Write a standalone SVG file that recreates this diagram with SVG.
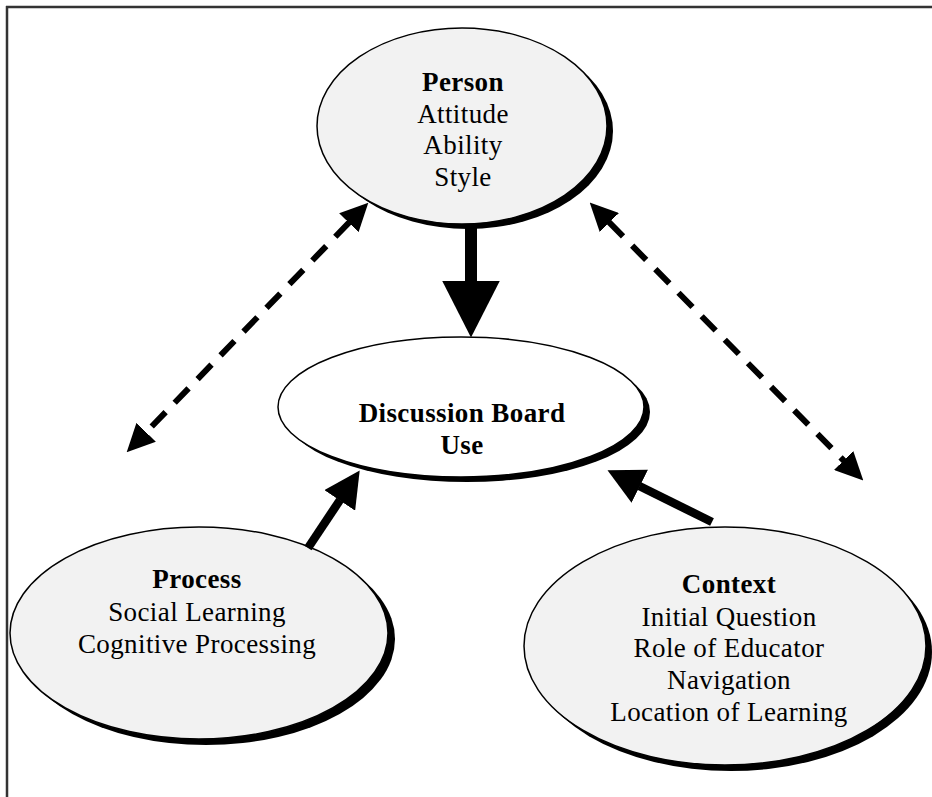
<svg xmlns="http://www.w3.org/2000/svg" width="932" height="797" viewBox="0 0 932 797">
<style>
.t{font-family:"Liberation Serif","Times New Roman",serif;font-size:27px;letter-spacing:0.4px;fill:#000;text-anchor:middle}
.b{font-weight:bold}
.shadow{fill:#000}
.node{fill:#f2f2f2;stroke:#000;stroke-width:1.5}
.white{fill:#fff}
.dash{stroke:#000;stroke-width:6;stroke-dasharray:20 13;fill:none}
.solid{stroke:#000;stroke-width:8.5;fill:none}
</style>
<defs>
<marker id="dh" markerUnits="userSpaceOnUse" markerWidth="28" markerHeight="27" refX="0.5" refY="13.5" orient="auto-start-reverse" viewBox="0 0 28 27">
<path d="M0,0 L28,13.5 L0,27 z" fill="#000"/>
</marker>
<marker id="sh" markerUnits="userSpaceOnUse" markerWidth="36" markerHeight="37" refX="0.5" refY="18.5" orient="auto" viewBox="0 0 36 37">
<path d="M0,0 L36,18.5 L0,37 z" fill="#000"/>
</marker>
<marker id="bh" markerUnits="userSpaceOnUse" markerWidth="57" markerHeight="58" refX="0.5" refY="29" orient="auto" viewBox="0 0 57 58">
<path d="M0,0 L57,29 L0,58 z" fill="#000"/>
</marker>
</defs>
<rect width="932" height="797" fill="#fff"/>
<g id="frame" stroke="#333" stroke-width="2.5" fill="none">
<line x1="6" y1="7" x2="932" y2="7"/>
<line x1="7" y1="6" x2="7" y2="797"/>
</g>
<g id="person">
<ellipse class="shadow" cx="468" cy="131" rx="145" ry="98"/>
<ellipse class="node" cx="462" cy="126" rx="145" ry="98"/>
<text class="t b" x="463" y="91">Person</text>
<text class="t" x="463" y="123">Attitude</text>
<text class="t" x="463" y="154">Ability</text>
<text class="t" x="463" y="186">Style</text>
</g>
<g id="discussion">
<ellipse class="shadow" cx="467" cy="412" rx="183" ry="70"/>
<ellipse class="node white" cx="461" cy="407" rx="183" ry="70"/>
<text class="t b" x="462" y="422">Discussion Board</text>
<text class="t b" x="462" y="454">Use</text>
</g>
<g id="process">
<ellipse class="shadow" cx="206" cy="639" rx="189" ry="106"/>
<ellipse class="node" cx="199" cy="633" rx="189" ry="106"/>
<text class="t b" x="197" y="588">Process</text>
<text class="t" x="197" y="621">Social Learning</text>
<text class="t" x="197" y="653">Cognitive Processing</text>
</g>
<g id="context">
<ellipse class="shadow" cx="731" cy="652" rx="201" ry="119"/>
<ellipse class="node" cx="725" cy="646" rx="201" ry="119"/>
<text class="t b" x="729" y="593">Context</text>
<text class="t" x="729" y="626">Initial Question</text>
<text class="t" x="729" y="657">Role of Educator</text>
<text class="t" x="729" y="689">Navigation</text>
<text class="t" x="729" y="721">Location of Learning</text>
</g>
<g id="connectors">
<line class="dash" x1="349.2" y1="222.4" x2="145.8" y2="432.6" marker-start="url(#dh)" marker-end="url(#dh)"/>
<line class="dash" x1="609" y1="222.2" x2="844" y2="460.8" marker-start="url(#dh)" marker-end="url(#dh)"/>
<line x1="471" y1="226" x2="471" y2="281" stroke="#000" stroke-width="12" marker-end="url(#bh)"/>
<line class="solid" x1="308" y1="548" x2="340" y2="500" marker-end="url(#sh)"/>
<line class="solid" x1="712" y1="522" x2="639.3" y2="486" marker-end="url(#sh)"/>
</g>
</svg>
